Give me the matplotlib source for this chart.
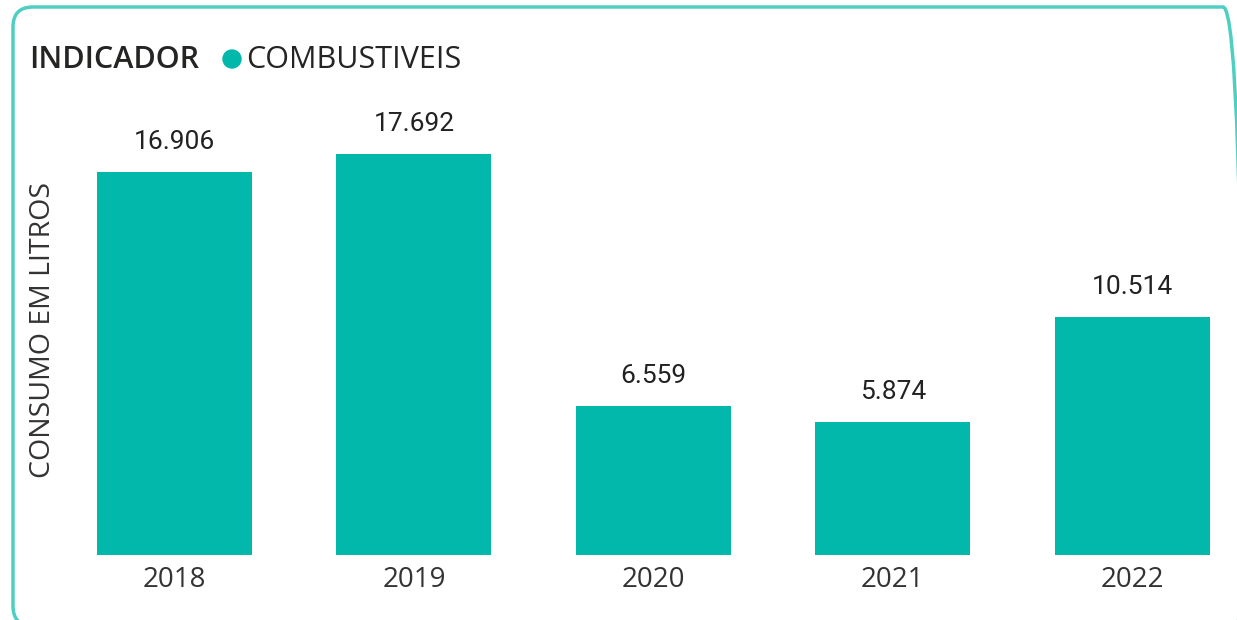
import matplotlib
matplotlib.use("Agg")
import matplotlib.pyplot as plt
from matplotlib.patches import FancyBboxPatch, Ellipse
from matplotlib.transforms import IdentityTransform

years = ["2018", "2019", "2020", "2021", "2022"]
consumo = [16906, 17692, 6559, 5874, 10514]
legend_title = "INDICADOR"
series_name = "COMBUSTIVEIS"
y_label = "CONSUMO EM LITROS"

BAR = "#01B8AA"
BORDER = "#4FCFC4"
W, H = 1237, 620
fig = plt.figure(figsize=(W / 100, H / 100), dpi=100)

# rounded border in pixel coordinates (right and bottom edges clipped, as in the reference)
fig.patches.append(FancyBboxPatch((13, -6), 1243 - 13, H - 7 + 6,
                                  boxstyle="round,pad=0,rounding_size=20",
                                  transform=IdentityTransform(), fill=False,
                                  edgecolor=BORDER, linewidth=2.5))

spacing = 239.4
x0 = 174.5
left_px = x0 - 0.5 * spacing
right_px = x0 + 4.4 * spacing
bottom_px = 555
top_px = 110
ax = fig.add_axes([left_px / W, 1 - bottom_px / H, (right_px - left_px) / W,
                   (bottom_px - top_px) / H])
ax.patch.set_alpha(0)
scale = 383 / 16906
ax.set_xlim(-0.5, 4.4)
ax.set_ylim(0, (bottom_px - top_px) / scale)

xs = list(range(len(years)))
bars = ax.bar(xs, consumo, width=155 / spacing, color=BAR)
for x, v in zip(xs, consumo):
    ax.annotate(f"{v:,}".replace(",", "."), (x, v), xytext=(0, 13),
                textcoords="offset points", ha="center", va="bottom",
                fontsize=19, family="Roboto", color="#222222")

ax.set_xticks(xs)
ax.set_xticklabels(years, fontsize=20, family="Open Sans", color="#333333")
ax.tick_params(axis="x", length=0, pad=8)
ax.set_yticks([])
for s in ax.spines.values():
    s.set_visible(False)

fig.text(43 / W, 1 - 330 / H, y_label, rotation=90, ha="center", va="center",
         fontsize=20.5, family="Open Sans", color="#333333")

fig.text(29 / W, 1 - 60 / H, legend_title, ha="left", va="center",
         fontsize=22, family="Open Sans", fontweight="semibold", color="#252423")
fig.patches.append(Ellipse((232 / W, 1 - 59 / H), 18 / W, 18 / H,
                           transform=fig.transFigure, color=BAR))
fig.text(246 / W, 1 - 60 / H, series_name, ha="left", va="center",
         fontsize=22, family="Open Sans", color="#252423")

fig.savefig("out.png", dpi=100)
